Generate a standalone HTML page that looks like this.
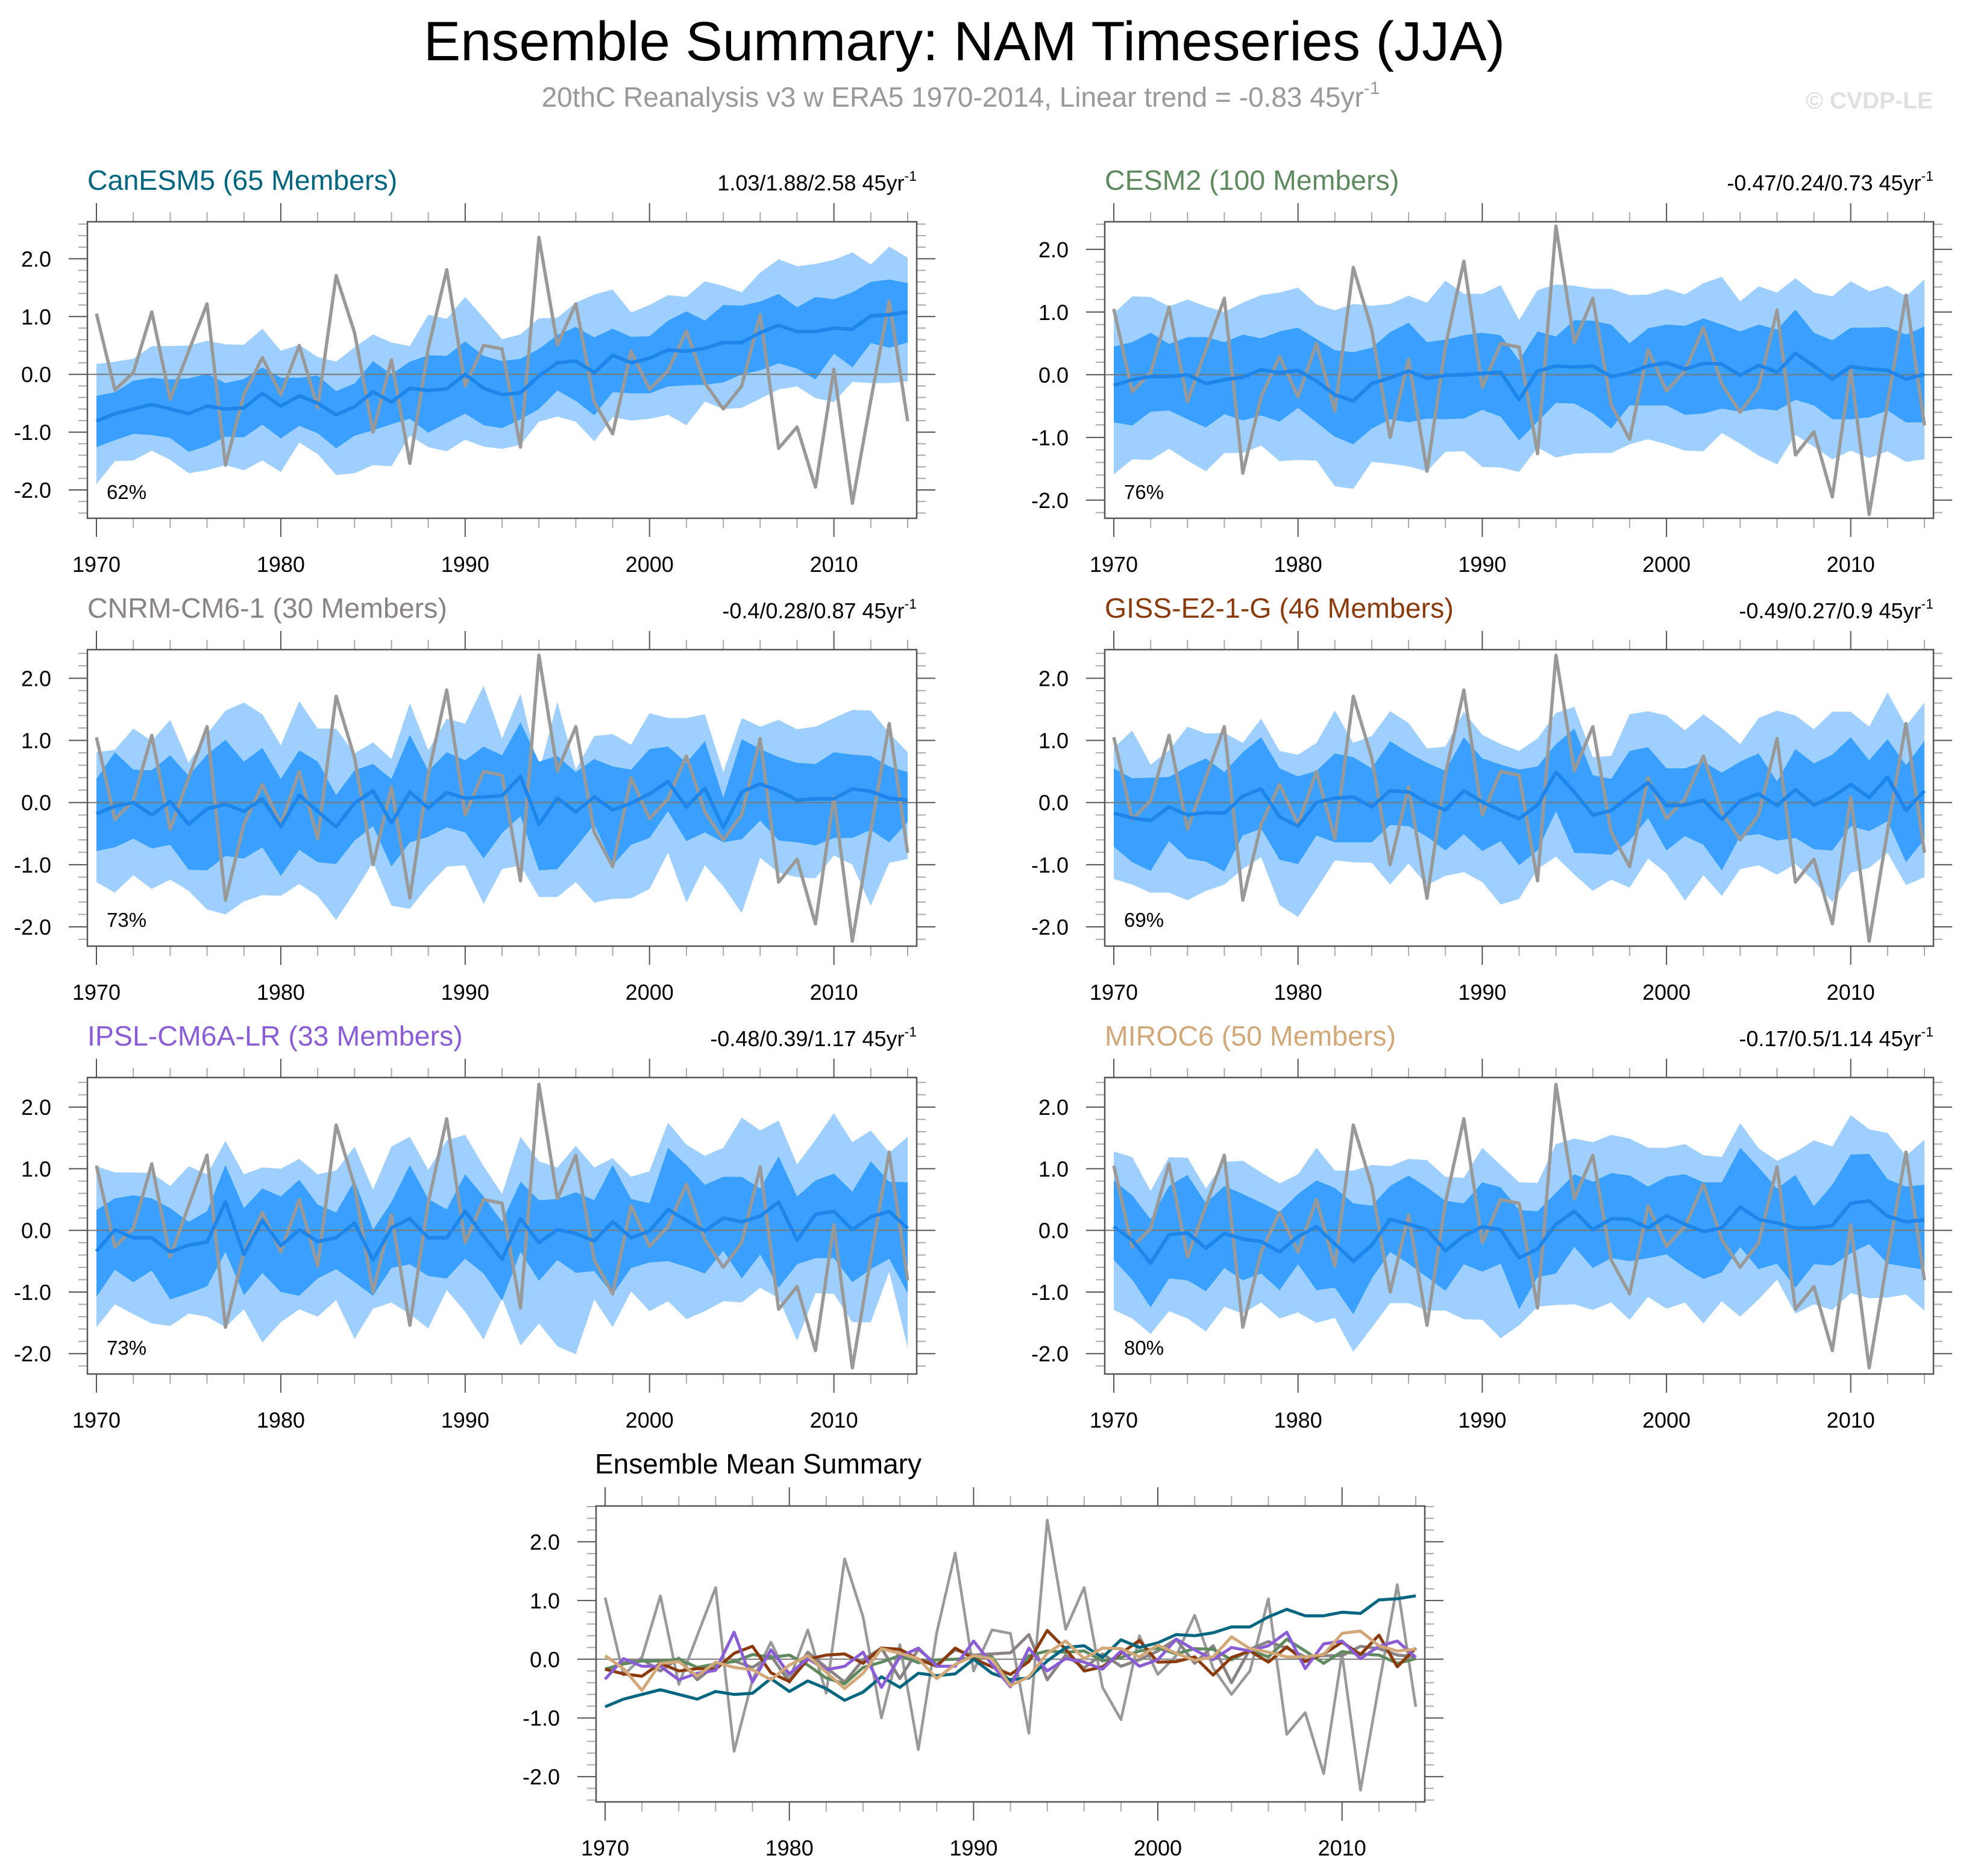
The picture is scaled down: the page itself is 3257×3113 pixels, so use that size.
<!DOCTYPE html>
<html><head><meta charset="utf-8"><title>Ensemble Summary: NAM Timeseries (JJA)</title>
<style>html,body{margin:0;padding:0;background:#fff}svg{display:block}text{font-family:"Liberation Sans",Arial,sans-serif}</style>
</head><body>
<svg id="fig" xmlns="http://www.w3.org/2000/svg" width="3257" height="3113" viewBox="0 0 3257 3113">
<rect x="0" y="0" width="3257" height="3113" fill="#fff"/>
<text x="1600" y="100" font-size="92" text-anchor="middle" fill="#000">Ensemble Summary: NAM Timeseries (JJA)</text>
<text x="1594" y="177" font-size="46" text-anchor="middle" fill="#999">20thC Reanalysis v3 w ERA5 1970-2014, Linear trend = -0.83 45yr<tspan font-size="30" dy="-21">-1</tspan></text>
<text x="3207" y="180" font-size="39" font-weight="bold" text-anchor="end" fill="#e0e0e0">© CVDP-LE</text>
</svg>
<script>
const years = [];
for (let y = 1970; y <= 2014; y++) years.push(y);

const obs = [1.05,-0.27,0.03,1.08,-0.43,0.4,1.22,-1.57,-0.35,0.29,-0.35,0.5,-0.58,1.71,0.72,-1.0,0.25,-1.54,0.45,1.81,-0.2,0.5,0.44,-1.26,2.37,0.51,1.22,-0.48,-1.03,0.4,-0.26,0.06,0.75,-0.15,-0.6,-0.2,1.03,-1.28,-0.91,-1.95,0.09,-2.23,-0.45,1.27,-0.81];

const canMean = [-0.81,-0.68,-0.6,-0.52,-0.6,-0.68,-0.55,-0.6,-0.58,-0.33,-0.55,-0.37,-0.5,-0.7,-0.56,-0.3,-0.48,-0.24,-0.28,-0.25,0.0,-0.24,-0.35,-0.32,-0.03,0.2,0.23,0.03,0.33,0.2,0.28,0.42,0.4,0.45,0.55,0.55,0.72,0.85,0.74,0.74,0.8,0.78,1.01,1.03,1.08];
const canLightHi = [0.18,0.22,0.27,0.49,0.49,0.5,0.58,0.52,0.51,0.79,0.41,0.51,0.3,0.22,0.47,0.69,0.55,0.49,1.03,0.96,1.34,0.98,0.61,0.69,0.97,0.98,1.24,1.38,1.47,1.07,1.2,1.37,1.34,1.61,1.53,1.42,1.76,1.99,1.87,1.91,1.98,2.11,1.9,2.21,2.02];
const canLightLo = [-1.9,-1.5,-1.49,-1.32,-1.48,-1.71,-1.66,-1.57,-1.66,-1.49,-1.69,-1.18,-1.38,-1.74,-1.71,-1.57,-1.59,-1.06,-1.26,-1.33,-1.13,-1.25,-1.29,-1.22,-0.82,-0.73,-0.82,-1.16,-0.74,-0.8,-0.77,-0.7,-0.88,-0.47,-0.6,-0.58,-0.42,-0.26,-0.21,-0.41,-0.48,-0.13,-0.15,-0.15,-0.12];
const canDarkHi = [-0.37,-0.31,-0.11,-0.06,-0.09,-0.07,0.01,-0.15,-0.08,0.12,-0.06,-0.06,-0.02,-0.29,-0.16,0.23,0,0.22,0.33,0.32,0.57,0.32,0.23,0.27,0.44,0.68,0.82,0.64,0.79,0.65,0.66,0.93,1.09,0.93,1.2,1.19,1.26,1.39,1.16,1.34,1.3,1.42,1.6,1.64,1.58];
const canDarkLo = [-1.26,-1.14,-1.03,-1.05,-1.1,-1.34,-1.24,-1.08,-1.09,-0.87,-1.11,-0.89,-1.02,-1.28,-1.06,-0.97,-0.86,-0.77,-1.01,-0.84,-0.68,-0.88,-0.93,-0.78,-0.6,-0.28,-0.46,-0.71,-0.31,-0.33,-0.33,-0.21,-0.19,-0.18,-0.14,0,0.07,0.19,0.1,-0.09,0.36,0.12,0.54,0.46,0.55];

const cesmMean = [-0.17,-0.08,-0.03,-0.03,0,-0.14,-0.08,-0.04,0.08,0.03,0.07,-0.1,-0.32,-0.42,-0.14,-0.05,0.06,-0.06,-0.01,0,0.02,0.04,-0.4,0.06,0.14,0.12,0.14,-0.03,0.03,0.14,0.19,0.09,0.18,0.17,-0.01,0.15,0.04,0.34,0.14,-0.07,0.13,0.09,0.07,-0.07,0.01];
const cesmLightHi = [0.98,1.25,1.24,1.09,1.2,1.09,1,1.15,1.27,1.31,1.39,1.12,1.03,1.13,1.1,1.13,1.26,1.15,1.5,1.29,1.29,1.43,0.87,1.35,1.44,1.42,1.37,1.37,1.27,1.28,1.37,1.28,1.46,1.56,1.17,1.41,1.31,1.54,1.31,1.25,1.49,1.33,1.42,1.25,1.52];
const cesmLightLo = [-1.59,-1.35,-1.36,-1.18,-1.37,-1.54,-1.25,-1.25,-1.13,-1.38,-1.36,-1.37,-1.78,-1.82,-1.39,-1.42,-1.46,-1.54,-1.23,-1.22,-1.47,-1.48,-1.55,-1.16,-1.32,-1.26,-1.25,-1.25,-1.11,-1.03,-1.11,-1.21,-1.22,-0.93,-1.1,-1.29,-1.43,-0.96,-1.15,-1.35,-1.21,-1.33,-1.22,-1.39,-1.35];
const cesmDarkHi = [0.45,0.52,0.67,0.49,0.6,0.6,0.52,0.64,0.58,0.69,0.75,0.57,0.39,0.36,0.43,0.68,0.83,0.52,0.56,0.63,0.67,0.63,0.23,0.69,0.61,0.87,0.86,0.8,0.5,0.74,0.8,0.78,0.9,0.8,0.69,0.8,0.72,1.04,0.67,0.55,0.75,0.75,0.76,0.64,0.77];
const cesmDarkLo = [-0.76,-0.81,-0.59,-0.57,-0.71,-0.84,-0.63,-0.73,-0.65,-0.75,-0.53,-0.76,-0.99,-1.11,-0.86,-0.71,-0.76,-0.7,-0.71,-0.7,-0.56,-0.67,-1.05,-0.75,-0.45,-0.46,-0.62,-0.86,-0.49,-0.49,-0.49,-0.64,-0.62,-0.54,-0.59,-0.54,-0.57,-0.4,-0.49,-0.71,-0.71,-0.68,-0.57,-0.76,-0.76];

const cnrmMean = [-0.18,-0.06,0,-0.2,0.02,-0.35,-0.1,-0.03,-0.14,0.06,-0.39,0.12,-0.14,-0.39,-0.01,0.19,-0.33,0.17,-0.09,0.16,0.07,0.09,0.11,0.42,-0.35,0.07,-0.15,0.09,-0.12,-0.01,0.14,0.34,-0.07,0.23,-0.4,0.17,0.3,0.19,0.04,0.06,0.06,0.22,0.18,0.07,0.04];
const cnrmLightHi = [0.81,0.85,1.19,0.99,1.33,0.64,1.1,1.48,1.61,1.42,0.92,1.63,1.19,1.19,0.79,0.97,0.7,1.6,0.84,1.35,1.27,1.88,1.03,1.75,0.49,1.62,0.53,1.07,1.1,0.93,1.44,1.36,1.36,1.42,0.49,1.36,1.22,1.33,1.18,1.22,1.36,1.49,1.48,1.12,0.81];
const cnrmLightLo = [-1.28,-1.45,-1.17,-1.39,-1.24,-1.42,-1.72,-1.8,-1.59,-1.49,-1.5,-1.31,-1.5,-1.89,-1.44,-0.96,-1.66,-1.71,-1.34,-1.03,-1.01,-1.63,-1.07,-1.01,-1.52,-1.52,-1.28,-1.61,-1.55,-1.54,-1.39,-0.81,-1.61,-1.01,-1.35,-1.78,-0.89,-1.13,-1.2,-1.22,-0.85,-1.0,-1.66,-0.97,-0.91];
const cnrmDarkHi = [0.38,0.81,0.53,0.52,0.76,0.43,0.77,1.01,0.66,0.88,0.38,0.84,0.66,0.12,0.52,0.62,0.38,1.09,0.51,0.81,0.68,0.9,0.76,1.29,0.66,0.75,0.49,0.7,0.58,0.53,0.86,0.9,0.64,0.99,0.08,1.02,0.86,0.73,0.64,0.62,0.81,0.77,0.75,0.58,0.49];
const cnrmDarkLo = [-0.78,-0.72,-0.58,-0.74,-0.68,-1.08,-1.09,-0.86,-0.9,-0.72,-1.18,-0.76,-0.96,-0.99,-0.61,-0.38,-1.03,-0.64,-0.55,-0.4,-0.48,-0.9,-0.49,-0.22,-1.09,-1.07,-0.72,-0.35,-1.01,-0.68,-0.57,-0.14,-0.62,-0.48,-0.64,-0.59,-0.29,-0.61,-0.64,-0.69,-0.57,-0.57,-0.44,-0.64,-0.31];

const gissMean = [-0.17,-0.25,-0.29,-0.07,-0.2,-0.16,-0.17,0.1,0.22,-0.23,-0.38,0,0.07,0.09,-0.07,0.19,0.17,0,-0.12,0.19,0.01,-0.13,-0.26,-0.04,0.49,0.17,-0.2,-0.13,0.1,0.32,-0.05,-0.04,0.04,-0.27,0.03,0.14,-0.05,0.21,-0.04,0.09,0.29,0.08,0.41,-0.13,0.19];
const gissLightHi = [0.88,1.16,0.61,0.84,1.22,1.11,1.12,0.96,1.35,0.83,0.77,0.96,1.48,0.96,1.07,1.47,1.28,0.87,0.9,1.46,1.09,0.94,0.83,1.03,1.44,1.54,0.73,0.75,1.42,1.47,1.4,1.16,1.42,1.2,0.94,1.36,1.48,1.4,1.18,1.46,1.46,1.22,1.77,1.23,1.61];
const gissLightLo = [-1.23,-1.32,-1.45,-1.45,-1.57,-1.42,-1.32,-1.07,-0.88,-1.65,-1.84,-1.39,-0.93,-0.96,-0.97,-1.32,-0.98,-1.33,-1.18,-1.12,-1.28,-1.64,-1.55,-1.07,-0.87,-1.16,-1.42,-1.24,-1.37,-0.9,-1.14,-1.58,-1.17,-1.5,-1.07,-1.01,-1.16,-0.99,-1.26,-1.6,-1.13,-1.05,-0.81,-1.33,-1.2];
const gissDarkHi = [0.55,0.39,0.4,0.41,0.58,0.71,0.49,0.81,1.05,0.55,0.42,0.51,0.79,0.73,0.55,0.99,0.8,0.64,0.51,1.05,0.71,0.61,0.53,0.58,0.94,1.19,0.44,0.38,0.83,0.89,0.55,0.55,0.66,0.48,0.66,0.79,0.34,0.86,0.63,0.77,1.05,0.68,1.02,0.6,0.99];
const gissDarkLo = [-0.71,-0.96,-1.1,-0.62,-0.9,-0.95,-1.11,-0.53,-0.42,-0.92,-0.99,-0.53,-0.64,-0.64,-0.64,-0.36,-0.38,-0.55,-0.77,-0.51,-0.78,-0.62,-1.01,-0.77,-0.14,-0.81,-0.82,-0.84,-0.61,-0.25,-0.77,-0.54,-0.68,-1.09,-0.54,-0.51,-0.61,-0.57,-0.75,-0.77,-0.38,-0.46,-0.3,-0.96,-0.59];

const ipslMean = [-0.34,0.01,-0.12,-0.12,-0.35,-0.24,-0.19,0.46,-0.39,0.16,-0.25,0.01,-0.18,-0.12,0.12,-0.48,0.04,0.19,-0.12,-0.12,0.31,-0.09,-0.47,0.19,-0.2,0.01,-0.05,-0.17,0.14,-0.12,-0.01,0.34,0.16,-0.01,0.2,0.14,0.23,0.46,-0.16,0.26,0.31,0.01,0.22,0.31,0.03];
const ipslLightHi = [1.04,0.94,0.94,0.93,0.72,1.04,0.91,1.45,0.91,1.02,1,1.16,0.91,0.97,1.36,0.66,1.36,1.52,0.98,1.46,1.55,1.04,0.59,1.52,1.12,1.02,1.37,1.02,1.17,0.87,0.96,1.75,1.39,1.21,1.34,1.83,1.62,1.78,1.07,1.47,1.9,1.43,1.62,1.26,1.52];
const ipslLightLo = [-1.57,-1.2,-1.36,-1.51,-1.55,-1.35,-1.4,-1.57,-1.28,-1.82,-1.49,-1.28,-1.4,-1.13,-1.76,-1.27,-1.17,-1.36,-1.59,-0.97,-1.32,-1.77,-1.1,-1.87,-1.51,-1.88,-2.01,-1.12,-1.57,-0.99,-1.31,-1.15,-1.44,-1.31,-1.15,-1.17,-0.93,-1.1,-1.79,-1.02,-1.03,-1.49,-1.49,-0.67,-1.9];
const ipslDarkHi = [0.33,0.52,0.57,0.52,0.36,0.14,0.31,1.06,0.36,0.68,0.55,0.82,0.42,0.29,0.81,0.01,0.46,1.06,0.51,0.34,0.91,0.55,0.14,0.79,0.49,0.51,0.62,0.49,1.06,0.51,0.44,1.34,1.06,0.74,0.87,0.87,0.68,1.2,0.55,0.81,0.92,0.63,1.12,0.79,0.78];
const ipslDarkLo = [-1.08,-0.64,-0.84,-0.65,-1.12,-1.02,-0.91,-0.35,-1.05,-0.69,-1.0,-1.06,-0.78,-0.63,-0.84,-1.06,-0.61,-0.55,-0.74,-0.78,-0.46,-0.7,-1.14,-0.35,-0.82,-0.48,-0.69,-0.66,-1.04,-0.61,-0.52,-0.5,-0.59,-0.7,-0.33,-0.78,-0.39,-0.93,-0.55,-0.45,-0.45,-0.84,-0.63,-0.46,-1.02];

const mirocMean = [0.06,-0.16,-0.53,-0.07,-0.04,-0.29,-0.05,-0.14,-0.18,-0.35,-0.1,0.06,-0.22,-0.5,-0.24,0.18,0.1,0.01,-0.33,-0.09,0.06,0.01,-0.45,-0.3,0.1,0.31,0.01,0.19,0.18,0.04,0.24,0.1,-0.02,0.04,0.38,0.18,0.12,0.04,0.04,0.08,0.44,0.48,0.23,0.14,0.17];
const mirocLightHi = [1.28,1.19,0.64,1.19,1.18,0.68,1.11,1.13,0.94,0.76,0.91,1.34,0.97,0.97,1.06,1.04,1.16,1.14,0.87,0.85,1.34,1.06,0.78,0.77,1.4,1.49,1.43,1.55,1.49,1.34,1.34,1.4,1.22,1.19,1.74,1.33,1.13,1.27,1.46,1.36,1.87,1.64,1.58,1.21,1.47];
const mirocLightLo = [-1.29,-1.43,-1.68,-1.31,-1.43,-1.64,-1.24,-1.35,-1.17,-1.43,-1.33,-1.5,-1.42,-1.97,-1.58,-1.18,-1.18,-1.3,-1.3,-1.44,-1.45,-1.75,-1.54,-1.24,-1.21,-1.2,-1.29,-1.17,-1.45,-1.08,-1.27,-1.17,-1.51,-1.15,-1.4,-1.12,-0.8,-1.35,-1.2,-1.29,-1.02,-1.1,-1.09,-1.04,-1.3];
const mirocDarkHi = [0.81,0.57,0.18,0.72,0.9,0.44,0.72,0.59,0.45,0.3,0.59,0.81,0.69,0.44,0.4,0.72,0.89,0.7,0.48,0.44,0.78,0.7,0.33,0.31,0.61,0.91,0.79,0.93,0.89,0.71,0.87,0.91,0.78,0.78,1.34,1.02,0.68,0.9,0.39,0.74,1.23,1.24,0.83,0.71,0.74];
const mirocDarkLo = [-0.48,-0.8,-1.25,-0.78,-0.81,-0.99,-0.61,-0.81,-0.7,-0.97,-0.55,-0.97,-0.93,-1.36,-0.78,-0.35,-0.54,-0.76,-0.98,-0.55,-0.67,-0.54,-1.28,-0.76,-0.7,-0.27,-0.61,-0.45,-0.5,-0.45,-0.39,-0.61,-0.79,-0.68,-0.27,-0.63,-0.54,-0.93,-0.55,-0.57,-0.37,-0.22,-0.54,-0.59,-0.64];

const modelNames = ["CanESM5 (65 Members)","CESM2 (100 Members)","CNRM-CM6-1 (30 Members)","GISS-E2-1-G (46 Members)","IPSL-CM6A-LR (33 Members)","MIROC6 (50 Members)"];
const trendLabels = ["1.03/1.88/2.58 45yr","-0.47/0.24/0.73 45yr","-0.4/0.28/0.87 45yr","-0.49/0.27/0.9 45yr","-0.48/0.39/1.17 45yr","-0.17/0.5/1.14 45yr"];
const percentLabels = ["62%","76%","73%","69%","73%","80%"];
const yTickLabels = ["-2.0","-1.0","0.0","1.0","2.0"];
const yTickValues = [-2,-1,0,1,2];
const xTickYears = [1970,1980,1990,2000,2010];

const modelColors = ["#00657f","#5f8a5f","#8a8385","#8b3a0c","#8a5cd6","#d2a878"];
const means = [canMean,cesmMean,cnrmMean,gissMean,ipslMean,mirocMean];
const lightHi = [canLightHi,cesmLightHi,cnrmLightHi,gissLightHi,ipslLightHi,mirocLightHi];
const lightLo = [canLightLo,cesmLightLo,cnrmLightLo,gissLightLo,ipslLightLo,mirocLightLo];
const darkHi = [canDarkHi,cesmDarkHi,cnrmDarkHi,gissDarkHi,ipslDarkHi,mirocDarkHi];
const darkLo = [canDarkLo,cesmDarkLo,cnrmDarkLo,gissDarkLo,ipslDarkLo,mirocDarkLo];

const NS = "http://www.w3.org/2000/svg";
const svg = document.getElementById("fig");
function mk(tag, attrs, parent) {
  const e = document.createElementNS(NS, tag);
  for (const k in attrs) e.setAttribute(k, attrs[k]);
  (parent || svg).appendChild(e);
  return e;
}

const layouts = [
  {x0:145,x1:1521,top:368,bot:860,ymax:2.64,ymin:-2.49},
  {x0:1833,x1:3208,top:368,bot:860,ymax:2.44,ymin:-2.29},
  {x0:145,x1:1521,top:1078,bot:1570,ymax:2.46,ymin:-2.31},
  {x0:1833,x1:3208,top:1078,bot:1570,ymax:2.46,ymin:-2.31},
  {x0:145,x1:1521,top:1788,bot:2280,ymax:2.48,ymin:-2.33},
  {x0:1833,x1:3208,top:1788,bot:2280,ymax:2.48,ymin:-2.33}
];

function makeScales(L) {
  const xa = L.x0 + 15, xb = L.x1 - 15;
  const xs = yr => xa + (yr - 1970) / 44 * (xb - xa);
  const ys = v => L.top + (L.ymax - v) / (L.ymax - L.ymin) * (L.bot - L.top);
  return {xs, ys};
}

function linePath(xs, ys, arr) {
  return arr.map((v,i) => (i ? "L" : "M") + xs(years[i]).toFixed(1) + "," + ys(v).toFixed(1)).join("");
}
function bandPath(xs, ys, hi, lo) {
  let d = hi.map((v,i) => (i ? "L" : "M") + xs(years[i]).toFixed(1) + "," + ys(v).toFixed(1)).join("");
  for (let i = lo.length - 1; i >= 0; i--) d += "L" + xs(years[i]).toFixed(1) + "," + ys(lo[i]).toFixed(1);
  return d + "Z";
}

function drawAxes(g, L, xs, ys) {
  for (let yr = 1970; yr <= 2014; yr += 2) {
    const major = (yr % 10 === 0);
    const x = xs(yr);
    const t1 = mk("line", {x1:x, x2:x, y1:L.top - (major ? 31 : 16), y2:L.top, stroke: major ? "#555" : "#aaa", "stroke-width":2}, g);
    
    
    const t2 = mk("line", {x1:x, x2:x, y1:L.bot, y2:L.bot + (major ? 31 : 16), stroke: major ? "#555" : "#aaa", "stroke-width":2}, g);
    
    
  }
  xTickYears.forEach(yr => {
    const t = mk("text", {x:xs(yr), y:L.bot + 89, "font-size":36, "text-anchor":"middle", fill:"#000"}, g);
    t.textContent = String(yr);
    
    
  });
  for (let k = Math.ceil(L.ymin * 5); k <= Math.floor(L.ymax * 5); k++) {
    const v = k / 5, y = ys(v), major = (k % 5 === 0);
    const a = mk("line", {x1:L.x0 - (major ? 31 : 15), x2:L.x0, y1:y, y2:y, stroke: major ? "#555" : "#aaa", "stroke-width":2}, g);
    
    
    const b = mk("line", {x1:L.x1, x2:L.x1 + (major ? 31 : 15), y1:y, y2:y, stroke: major ? "#555" : "#aaa", "stroke-width":2}, g);
    
    
  }
  yTickValues.forEach((v,i) => {
    const t = mk("text", {x:L.x0 - 60, y:ys(v) + 13, "font-size":36, "text-anchor":"end", fill:"#000"}, g);
    t.textContent = yTickLabels[i];
    
    
  });
  const z = mk("line", {x1:L.x0, x2:L.x1, y1:ys(0), y2:ys(0), stroke:"#777", "stroke-width":2}, g);
  
  
}

for (let p = 0; p < 6; p++) {
  const L = layouts[p];
  const {xs, ys} = makeScales(L);
  const g = mk("g", {});
  
  

  const title = mk("text", {x:L.x0, y:L.top - 53, "font-size":46.5, fill:modelColors[p]}, g);
  title.textContent = modelNames[p];
  
  

  const tr = mk("text", {x:L.x1, y:L.top - 52, "font-size":36, "text-anchor":"end", fill:"#000"}, g);
  
  
  const s1 = mk("tspan", {}, tr); s1.textContent = trendLabels[p];
  const s2 = mk("tspan", {"font-size":23, dy:-16}, tr); s2.textContent = "-1";

  const box = mk("rect", {x:L.x0, y:L.top, width:L.x1 - L.x0, height:L.bot - L.top, fill:"#fff", stroke:"none"}, g);
  
  

  const lb = mk("path", {d:bandPath(xs, ys, lightHi[p], lightLo[p]), fill:"#9fd0fd"}, g);
  
  
  const db = mk("path", {d:bandPath(xs, ys, darkHi[p], darkLo[p]), fill:"#39a0ff"}, g);
  
  

  drawAxes(g, L, xs, ys);

  const ol = mk("path", {d:linePath(xs, ys, obs), fill:"none", stroke:"#999", "stroke-width":5.5, "stroke-linejoin":"round"}, g);
  
  
  const ml = mk("path", {d:linePath(xs, ys, means[p]), fill:"none", stroke:"#1e86ea", "stroke-width":6, "stroke-linejoin":"round"}, g);
  
  

  const fr = mk("rect", {x:L.x0, y:L.top, width:L.x1 - L.x0, height:L.bot - L.top, fill:"none", stroke:"#555", "stroke-width":2.5}, g);
  
  

  const pc = mk("text", {x:L.x0 + 32, y:L.bot - 32, "font-size":33, fill:"#000"}, g);
  pc.textContent = percentLabels[p];
  
  
}

{
  const L = {x0:989,x1:2364,top:2499,bot:2990,ymax:2.61,ymin:-2.43};
  const {xs, ys} = makeScales(L);
  const g = mk("g", {});
  
  
  const title = mk("text", {x:987, y:2445, "font-size":46, fill:"#000"}, g);
  title.textContent = "Ensemble Mean Summary";
  
  
  drawAxes(g, L, xs, ys);
  const ol = mk("path", {d:linePath(xs, ys, obs), fill:"none", stroke:"#999", "stroke-width":4.5, "stroke-linejoin":"round"}, g);
  
  
  [2,1,3,0,4,5].forEach(p => {
    const l = mk("path", {d:linePath(xs, ys, means[p]), fill:"none", stroke:modelColors[p], "stroke-width":5, "stroke-linejoin":"round"}, g);
    
    
  });
  const fr = mk("rect", {x:L.x0, y:L.top, width:L.x1 - L.x0, height:L.bot - L.top, fill:"none", stroke:"#555", "stroke-width":2.5}, g);
  
  
}
</script>
</body></html>
